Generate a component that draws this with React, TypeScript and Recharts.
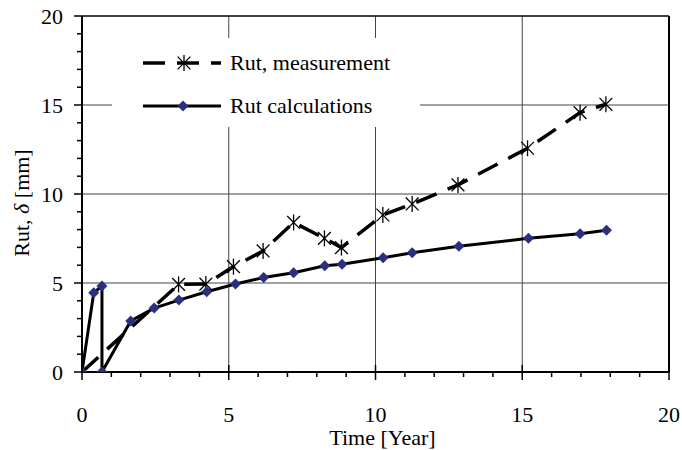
import React from 'react';
import { LineChart, Line, XAxis, YAxis, CartesianGrid, ReferenceLine, Legend } from 'recharts';

const measTime = [0, 3.29, 4.22, 5.16, 6.17, 7.21, 8.26, 8.84, 10.25, 11.25, 12.81, 15.18, 16.97, 17.85];
const measRut = [0, 4.92, 4.94, 5.92, 6.8, 8.4, 7.51, 6.99, 8.82, 9.44, 10.51, 12.57, 14.57, 15.04];

const calcTime = [0, 0.4, 0.68, 0.68, 1.66, 2.46, 3.3, 4.25, 5.23, 6.19, 7.21, 8.27, 8.86, 10.26, 11.25, 12.84, 15.21, 16.97, 17.87];
const calcRut = [0, 4.45, 4.83, 0, 2.87, 3.59, 4.04, 4.51, 4.94, 5.31, 5.58, 5.97, 6.05, 6.42, 6.7, 7.06, 7.51, 7.77, 7.96];

const axisTicks = [0, 1, 2, 3, 4, 5, 6, 7, 8, 9, 10, 11, 12, 13, 14, 15, 16, 17, 18, 19, 20];
const gridValues = [5, 10, 15];

const seriesNames = ['Rut, measurement', 'Rut calculations'];
const xTitle = 'Time [Year]';

const measData = measTime.map((x, i) => ({ x, y: measRut[i] }));
const calcData = calcTime.map((x, i) => ({ x, y: calcRut[i] }));

const FONT = "Liberation Serif, DejaVu Serif, serif";
const NAVY = '#2B2F80';
const textStyle: React.CSSProperties = { fontFamily: FONT, fontSize: 22, fontWeight: 400 };

const Star = (props: any) => {
  const { cx, cy } = props;
  if (cx == null || cy == null) return null;
  const r = 8;
  const d = r * 0.8;
  return (
    <g stroke="#000" strokeWidth={1.3} fill="none">
      <line x1={cx} y1={cy - r} x2={cx} y2={cy + r} />
      <line x1={cx - d} y1={cy - d} x2={cx + d} y2={cy + d} />
      <line x1={cx - d} y1={cy + d} x2={cx + d} y2={cy - d} />
    </g>
  );
};

const Diamond = (props: any) => {
  const { cx, cy } = props;
  if (cx == null || cy == null) return null;
  const r = 5.5;
  return <path d={`M${cx},${cy - r} L${cx + r},${cy} L${cx},${cy + r} L${cx - r},${cy} Z`} fill={NAVY} stroke="none" />;
};

const XTick = (props: any) => {
  const { x, y, payload } = props;
  const v = payload.value;
  const major = v % 5 === 0;
  return (
    <g>
      <line x1={x} x2={x} y1={major ? y - 7 : y} y2={major ? y + 8 : y + 5} stroke="#000" strokeWidth={1.5} />
      {major && (
        <text x={x} y={y + 50} textAnchor="middle" style={textStyle} fill="#000">
          {v}
        </text>
      )}
    </g>
  );
};

const YTick = (props: any) => {
  const { x, y, payload } = props;
  const v = payload.value;
  const major = v % 5 === 0;
  return (
    <g>
      <line x1={major ? x - 8 : x - 5} x2={x} y1={y} y2={y} stroke="#000" strokeWidth={1.5} />
      {major && (
        <text x={x - 19} y={y + 7.5} textAnchor="end" style={textStyle} fill="#000">
          {v}
        </text>
      )}
    </g>
  );
};

const LegendContent = () => (
  <svg width={308} height={89} style={{ display: 'block' }}>
    <line x1={31} x2={109} y1={25} y2={25} stroke="#000" strokeWidth={3.5} strokeDasharray="22 12" />
    <Star cx={72} cy={25} />
    <text x={118} y={32} style={textStyle} fill="#000">
      {seriesNames[0]}
    </text>
    <line x1={31} x2={109} y1={68} y2={68} stroke="#000" strokeWidth={3} />
    <Diamond cx={71} cy={68} />
    <text x={118} y={75} style={textStyle} fill="#000">
      {seriesNames[1]}
    </text>
  </svg>
);

const YTitle = (props: any) => {
  const vb = props.viewBox || { x: 0, y: 16, width: 82, height: 356 };
  const cx = vb.x + 29;
  const cy = vb.y + vb.height / 2 + 9;
  return (
    <text
      x={cx}
      y={cy}
      transform={`rotate(-90 ${cx} ${cy})`}
      textAnchor="middle"
      style={textStyle}
      fill="#000"
    >
      <tspan>Rut, </tspan>
      <tspan fontStyle="italic">δ</tspan>
      <tspan> [mm]</tspan>
    </text>
  );
};

const XTitle = (props: any) => {
  const vb = props.viewBox || { x: 82, y: 372, width: 587, height: 78 };
  const cx = vb.x + vb.width / 2 + 7;
  const cy = vb.y + vb.height - 5;
  return (
    <text x={cx} y={cy} textAnchor="middle" style={textStyle} fill="#000">
      {xTitle}
    </text>
  );
};

export default function App() {
  return (
    <div style={{ position: 'absolute', left: 0, top: 0, width: 682, height: 450, background: '#fff' }}>
      <LineChart width={682} height={450} margin={{ top: 16, right: 13, left: 0, bottom: 0 }}>
        <CartesianGrid
          horizontal
          vertical
          horizontalValues={gridValues}
          verticalValues={gridValues}
          stroke="#444"
          strokeWidth={1}
        />
        <XAxis
          type="number"
          dataKey="x"
          domain={[0, 20]}
          ticks={axisTicks}
          interval={0}
          tickSize={0}
          tickMargin={0}
          tickLine={false}
          tick={<XTick />}
          axisLine={{ stroke: '#000', strokeWidth: 2 }}
          height={78}
          allowDataOverflow
          label={<XTitle />}
        />
        <YAxis
          type="number"
          dataKey="y"
          domain={[0, 20]}
          ticks={axisTicks}
          interval={0}
          tickSize={0}
          tickMargin={0}
          tickLine={false}
          tick={<YTick />}
          axisLine={{ stroke: '#000', strokeWidth: 2 }}
          width={82}
          allowDataOverflow
          label={<YTitle />}
        />
        <ReferenceLine y={20} stroke="#000" strokeWidth={1.5} ifOverflow="visible" />
        <ReferenceLine x={20} stroke="#000" strokeWidth={2} ifOverflow="visible" />
        <Legend
          layout="vertical"
          align="center"
          verticalAlign="middle"
          content={<LegendContent />}
          wrapperStyle={{ left: 112, top: 38, width: 308, height: 89, background: '#fff', margin: 0, padding: 0 }}
        />
        <Line
          data={measData}
          dataKey="y"
          type="linear"
          stroke="#000"
          strokeWidth={3.5}
          strokeDasharray="22 12"
          dot={<Star />}
          activeDot={false}
          isAnimationActive={false}
          name={seriesNames[0]}
        />
        <Line
          data={calcData}
          dataKey="y"
          type="linear"
          stroke="#000"
          strokeWidth={3}
          dot={<Diamond />}
          activeDot={false}
          isAnimationActive={false}
          name={seriesNames[1]}
        />
      </LineChart>
    </div>
  );
}
